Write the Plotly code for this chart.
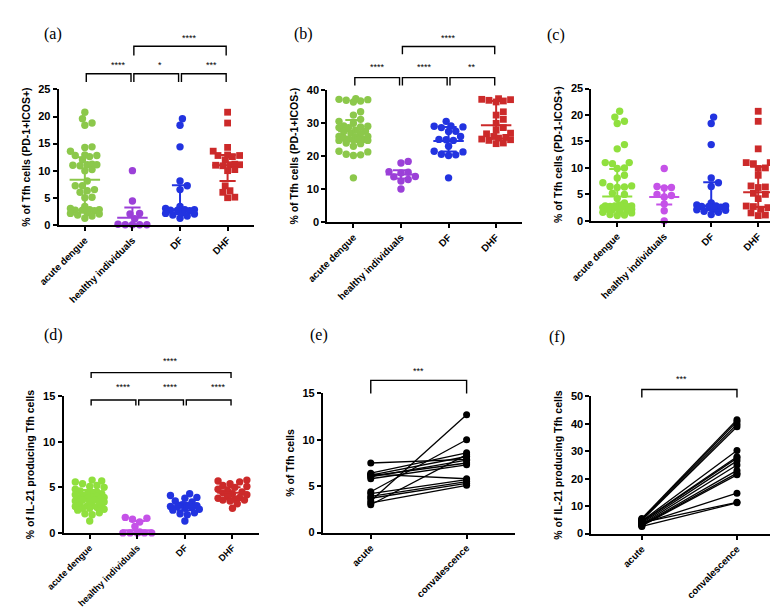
import numpy as np
import plotly.graph_objects as go

W, H = 778, 610

CATS4 = ["acute dengue", "healthy individuals", "DF", "DHF"]
CATS2 = ["acute", "convalescence"]

# (a) % of Tfh cells (PD-1+ICOS+)
df_a = [19.6, 18.4, 14.4, 8.1, 7.2, 6.5, 3.4, 3.0, 2.8, 2.8, 2.7, 2.7, 2.6, 2.2, 2.1, 2.0, 1.8, 1.6, 1.2]
dhf_a = [20.8, 18.8, 14.3, 13.6, 12.9, 12.8, 12.8, 12.6, 12.0, 11.2, 11.1, 11.1, 11.0, 10.9,
         10.2, 10.0, 7.2, 6.3, 6.0, 5.1, 5.0]
healthy_a = [10.0, 4.4, 2.1, 2.0, 1.1, 0.1, 0.0, 0.0, 0.0, 0.0]
med_a = [8.3, 1.3, 2.8, 11.0]
q1_a = [2.7, 0.0, 2.0, 8.1]
q3_a = [12.5, 3.2, 7.3, 12.9]

# (b) % of Tfh cells (PD-1+ICOS-)
df_b = [30.6, 29.2, 29.1, 28.9, 28.7, 27.6, 27.5, 26.0, 25.1, 25.0, 24.8, 23.0, 21.5, 21.3,
        20.6, 20.4, 20.2, 13.4]
dhf_b = [37.5, 37.3, 37.2, 37.0, 36.8, 36.5, 33.5, 32.5, 31.2, 30.0, 28.7, 27.9, 27.0, 26.8,
         26.0, 25.7, 25.5, 25.2, 25.0, 24.8, 24.0, 23.8]
healthy_b = [18.4, 17.9, 15.3, 15.1, 14.9, 13.8, 13.7, 12.9, 12.4, 10.0]
med_b = [27.6, 14.4, 24.6, 29.4]
q1_b = [25.0, 13.2, 21.4, 25.4]
q3_b = [31.0, 15.7, 28.9, 36.8]

# (c) % of Tfh cells (PD-1-ICOS+)
df_c = [19.6, 18.4, 14.4, 8.1, 7.2, 6.5, 3.4, 3.0, 2.8, 2.8, 2.7, 2.7, 2.6, 2.2, 2.1, 2.0, 1.8, 1.6, 1.2]
dhf_c = [20.7, 18.8, 13.6, 11.0, 11.0, 10.8, 10.0, 9.9, 8.6, 6.6, 6.4, 6.3, 5.2, 5.0, 4.2,
         2.8, 2.7, 2.5, 2.2, 1.5, 1.1, 1.0]
healthy_c = [9.9, 6.5, 6.3, 6.2, 5.0, 4.8, 4.5, 3.2, 1.9, 0.0]
med_c = [4.6, 4.5, 2.8, 5.4]
q1_c = [2.5, 3.1, 2.0, 2.6]
q3_c = [9.8, 6.4, 7.3, 10.2]

# (d) % of IL-21 producing Tfh cells
df_d = [4.3, 4.1, 3.9, 3.8, 3.5, 3.4, 3.1, 3.0, 3.0, 2.9, 2.9, 2.8, 2.7, 2.6, 2.5, 2.2, 2.1, 2.0, 1.3]
dhf_d = [5.8, 5.7, 5.6, 5.4, 5.2, 5.1, 5.0, 4.8, 4.6, 4.5, 4.4, 4.3, 4.2, 4.0, 3.9, 3.8, 3.7,
         3.6, 3.6, 3.5, 3.2, 2.7]
healthy_d = [1.7, 1.6, 1.5, 1.2, 0.7, 0.1, 0.0, 0.0, 0.0, 0.0, 0.0]
med_d = [3.6, 0.3, 2.9, 4.4]
q1_d = [2.9, 0.0, 2.5, 3.7]
q3_d = [4.7, 1.3, 3.3, 5.0]

# (e) paired % of Tfh cells
acute_e = [7.5, 6.4, 6.3, 6.2, 6.1, 6.0, 5.8, 4.4, 4.2, 3.9, 3.7, 3.4, 3.2, 3.0]
conv_e = [7.9, 8.6, 5.8, 8.2, 7.5, 7.8, 7.3, 10.0, 5.7, 5.5, 5.3, 12.7, 5.1, 8.4]

# (f) paired % of IL-21 producing Tfh cells
acute_f = [5.5, 5.2, 5.0, 4.8, 4.6, 4.4, 4.2, 4.0, 3.8, 3.6, 3.4, 3.2, 3.0, 2.8, 2.6]
conv_f = [41.5, 40.8, 39.8, 38.9, 30.3, 28.0, 27.5, 11.4, 26.5, 14.7, 25.0, 23.0, 22.0, 21.4, 11.2]

FONT = "Liberation Sans, Arial, sans-serif"

# panel boxes in pixels: x0, x1, ytop, ybottom
PANELS = {
    "a": dict(n="", box=(30.5, 231, 77, 215), yr=(0, 25), dt=5, xr=(-0.55, 3.55),
              title="% of Tfh cells (PD-1+ICOS+)", cats=CATS4, lab=(13, 9), xfs=9.8),
    "b": dict(n="2", box=(306.5, 507, 78, 212), yr=(0, 40), dt=10, xr=(-0.55, 3.55),
              title="% of Tfh cells (PD-1+ICOS-)", cats=CATS4, lab=(282, 9), xfs=9.8),
    "c": dict(n="3", box=(578, 776, 76, 211), yr=(0, 25), dt=5, xr=(-0.55, 3.55),
              title="% of Tfh cells (PD-1-ICOS+)", cats=CATS4, lab=(553, 10), xfs=9.8),
    "d": dict(n="4", box=(35.5, 236, 390, 529.3), yr=(0, 15), dt=5, xr=(-0.55, 3.55),
              title="% of IL-21 producing Tfh cells", cats=CATS4, lab=(13, 327), xfs=9.2),
    "e": dict(n="5", box=(302, 499, 387, 529), yr=(0, 15), dt=5, xr=(-0.5, 1.5),
              title="% of Tfh cells", cats=CATS2, lab=(298, 327), xfs=9.8),
    "f": dict(n="6", box=(578, 776.5, 390, 530), yr=(0, 50), dt=10, xr=(-0.53, 1.5),
              title="% of IL-21 producing Tfh cells", cats=CATS2, lab=(553, 329), xfs=9.8),
}

GREEN = "#8cc84b"
GREEN2 = "#90e03e"
PURPLE = "#9b40d8"
PURPLE2 = "#c552e8"
BLUE = "#2233e0"
RED = "#cc2a2a"


def scale(p):
    x0, x1, yt, yb = p["box"]
    ppx = (x1 - x0) / (p["xr"][1] - p["xr"][0])
    ppy = (yb - yt) / (p["yr"][1] - p["yr"][0])
    return ppx, ppy


def to_paper(p, xv, yv):
    x0, x1, yt, yb = p["box"]
    px = x0 + (xv - p["xr"][0]) / (p["xr"][1] - p["xr"][0]) * (x1 - x0)
    py = yb - (yv - p["yr"][0]) / (p["yr"][1] - p["yr"][0]) * (yb - yt)
    return px / W, 1 - py / H


def swarm(vals, p, d=7.4, max_off=15.0):
    # deterministic beeswarm layout: nearest free slot to the centre, limited width
    ppx, ppy = scale(p)
    vals = np.asarray(vals, float)
    offs = np.zeros(len(vals))
    placed = []
    step = d / 3.0
    cands = [0.0]
    k = 1
    while k * step <= max_off:
        cands += [k * step, -k * step]
        k += 1
    for i in np.argsort(vals):
        y = vals[i] * ppy
        best, best_d = 0.0, -1.0
        for s in cands:
            md = min([np.hypot(s - px, y - py) for px, py in placed] or [99.0])
            if md >= d * 0.9:
                best = s
                break
            if md > best_d:
                best, best_d = s, md
        placed.append((best, y))
        offs[i] = best / ppx
    return offs


fig = go.Figure()
shapes = []
annos = []


def dot_panel(key, groups, colors, symbols, med, q1, q3):
    p = PANELS[key]
    xa, ya = "x" + p["n"], "y" + p["n"]
    for i, (vals, col, sym) in enumerate(zip(groups, colors, symbols)):
        offs = swarm(vals, p)
        fig.add_trace(go.Scatter(
            x=i + offs, y=vals, mode="markers", xaxis=xa, yaxis=ya, cliponaxis=False,
            marker=dict(color=col, size=7.4 if sym == "circle" else 6.8, symbol=sym, line_width=0),
            hoverinfo="y"))
    for i, col in enumerate(colors):
        xs = [i - 0.32, i + 0.32, None, i, i, None, i - 0.17, i + 0.17, None, i - 0.17, i + 0.17]
        ys = [med[i], med[i], None, q1[i], q3[i], None, q1[i], q1[i], None, q3[i], q3[i]]
        fig.add_trace(go.Scatter(x=xs, y=ys, mode="lines", xaxis=xa, yaxis=ya,
                                 line=dict(color=col, width=2), hoverinfo="skip"))


def pair_panel(key, before, after):
    p = PANELS[key]
    xa, ya = "x" + p["n"], "y" + p["n"]
    xs, ys = [], []
    for b, a in zip(before, after):
        xs += [0, 1, None]
        ys += [b, a, None]
    fig.add_trace(go.Scatter(x=xs, y=ys, mode="lines+markers", xaxis=xa, yaxis=ya,
                             cliponaxis=False, line=dict(color="black", width=1.3),
                             marker=dict(color="black", size=7)))


def bracket(key, i, j, ytop, yleg, text, ytxt, gap=0.03):
    p = PANELS[key]
    ax, ay = to_paper(p, i + gap, yleg)
    bx, by = to_paper(p, i + gap, ytop)
    cx, cy = to_paper(p, j - gap, ytop)
    dx, dy = to_paper(p, j - gap, yleg)
    shapes.append(dict(type="path", xref="paper", yref="paper",
                       path=f"M{ax},{ay} L{bx},{by} L{cx},{cy} L{dx},{dy}",
                       line=dict(color="black", width=1.4)))
    tx, ty = to_paper(p, (i + j) / 2, ytxt)
    annos.append(dict(x=tx, y=ty, xref="paper", yref="paper", text=text, showarrow=False,
                      font=dict(family=FONT, size=9, color="black"), yanchor="middle"))


dot_panel("a", [df_a + dhf_a, healthy_a, df_a, dhf_a], [GREEN, PURPLE, BLUE, RED],
          ["circle", "circle", "circle", "square"], med_a, q1_a, q3_a)
dot_panel("b", [df_b + dhf_b, healthy_b, df_b, dhf_b], [GREEN, PURPLE, BLUE, RED],
          ["circle", "circle", "circle", "square"], med_b, q1_b, q3_b)
dot_panel("c", [df_c + dhf_c, healthy_c, df_c, dhf_c], [GREEN2, PURPLE2, BLUE, RED],
          ["circle", "circle", "circle", "square"], med_c, q1_c, q3_c)
dot_panel("d", [df_d + dhf_d, healthy_d, df_d, dhf_d], [GREEN2, PURPLE2, BLUE, RED],
          ["circle", "circle", "circle", "circle"], med_d, q1_d, q3_d)
pair_panel("e", acute_e, conv_e)
pair_panel("f", acute_f, conv_f)

bracket("a", 0, 1, 27.9, 26.4, "****", 29.6)
bracket("a", 1, 2, 27.9, 26.4, "*", 29.6)
bracket("a", 2, 3, 27.9, 26.4, "***", 29.6)
bracket("a", 1, 3, 33.0, 31.3, "****", 34.5)
bracket("b", 0, 1, 43.9, 41.5, "****", 47.0)
bracket("b", 1, 2, 43.9, 41.5, "****", 47.0)
bracket("b", 2, 3, 43.9, 41.5, "**", 47.0)
bracket("b", 1, 3, 53.4, 51.0, "****", 56.0)
bracket("d", 0, 1, 14.6, 14.0, "****", 16.0)
bracket("d", 1, 2, 14.6, 14.0, "****", 16.0)
bracket("d", 2, 3, 14.6, 14.0, "****", 16.0)
bracket("d", 0, 3, 17.6, 17.0, "****", 18.9)
bracket("e", 0, 1, 16.4, 15.0, "***", 17.4, gap=0)
bracket("f", 0, 1, 52.5, 49.6, "***", 56.3, gap=0)

layout = {}
for key, p in PANELS.items():
    x0, x1, yt, yb = p["box"]
    layout["xaxis" + p["n"]] = dict(
        domain=[x0 / W, x1 / W], range=list(p["xr"]), anchor="y" + p["n"],
        tickmode="array", tickvals=list(range(len(p["cats"]))), ticktext=p["cats"],
        tickangle=-45, showline=True, linewidth=2, linecolor="black", ticks="outside",
        ticklen=4, tickwidth=1.5, tickcolor="black", showgrid=False, zeroline=False,
        tickfont=dict(family=FONT, size=p["xfs"], color="black", weight="bold"))
    layout["yaxis" + p["n"]] = dict(
        domain=[1 - yb / H, 1 - yt / H], range=list(p["yr"]), anchor="x" + p["n"],
        dtick=p["dt"], tick0=0, showline=True, linewidth=2, linecolor="black", ticks="outside",
        ticklen=4, tickwidth=1.5, tickcolor="black", showgrid=False, zeroline=False,
        tickfont=dict(family=FONT, size=11, color="black", weight="bold"),
        title=dict(text=p["title"], standoff=6,
                   font=dict(family=FONT, size=10.5, color="black", weight="bold")))
    annos.append(dict(x=p["lab"][0] / W, y=1 - p["lab"][1] / H, xref="paper", yref="paper",
                      text="(" + key + ")", showarrow=False,
                      font=dict(family="Liberation Serif, Times New Roman, serif", size=16,
                                color="black")))

fig.update_layout(**layout)
fig.update_layout(width=W, height=H, autosize=False, margin=dict(l=0, r=0, t=0, b=0),
                  paper_bgcolor="white", plot_bgcolor="white", showlegend=False,
                  shapes=shapes, annotations=annos)

fig.write_html("out.html")
